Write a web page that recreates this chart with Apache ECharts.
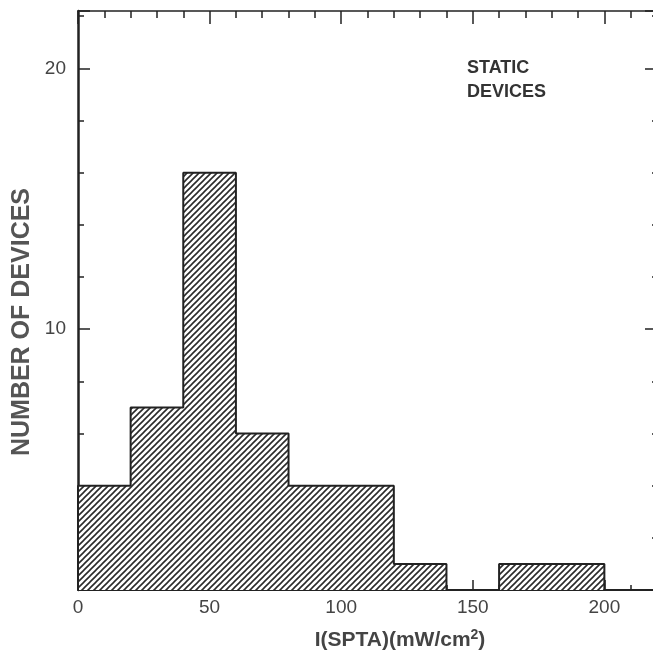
<!DOCTYPE html>
<html>
<head>
<meta charset="utf-8">
<script src="https://cdn.jsdelivr.net/npm/echarts@6/dist/echarts.min.js"></script>
<style>
  html, body { margin: 0; padding: 0; background: #fff; }
  #chart { width: 653px; height: 656px; }
</style>
</head>
<body>
<div id="chart"></div>
<script>
(function(){

    /* 数据 */
    var bin_edges = [0, 20, 40, 60, 80, 100, 120, 140, 160, 180, 200];
    var counts = [4, 7, 16, 6, 4, 4, 1, 0, 1, 1];
    var x_ticks = [0, 50, 100, 150, 200];
    var y_ticks = [10, 20];

    // histogram outline built from the bins
    var outline = [[bin_edges[0], 0]];
    for (var i = 0; i < counts.length; i++) {
        outline.push([bin_edges[i], counts[i]]);
        outline.push([bin_edges[i + 1], counts[i]]);
    }
    outline.push([bin_edges[bin_edges.length - 1], 0]);

    // hatch pattern ////
    var s = 6;
    var hatch = document.createElement('canvas');
    hatch.width = s;
    hatch.height = s;
    var ctx = hatch.getContext('2d');
    ctx.fillStyle = '#fff';
    ctx.fillRect(0, 0, s, s);
    ctx.strokeStyle = '#2a2a2a';
    ctx.lineWidth = 1.6;
    ctx.beginPath();
    ctx.moveTo(0, s); ctx.lineTo(s, 0);
    ctx.moveTo(-1, 1); ctx.lineTo(1, -1);
    ctx.moveTo(s - 1, s + 1); ctx.lineTo(s + 1, s - 1);
    ctx.stroke();

    var font = 'Liberation Sans, Arial, sans-serif';
    var ink = '#222';
    var X_MAX = 220, Y_MAX = 22.2;

    // 刻度轴（长刻度 / 短刻度各一条）
    function xAxisOf(pos, step, tickLen, lineW, label) {
        return {
            type: 'value', min: 0, max: X_MAX, interval: step, position: pos,
            axisLine: { show: lineW > 0, onZero: false, lineStyle: { color: ink, width: lineW } },
            axisTick: { inside: true, length: tickLen, lineStyle: { color: ink, width: 1.5 } },
            splitLine: { show: false },
            axisLabel: label || { show: false }
        };
    }
    function yAxisOf(pos, step, tickLen, lineW, label) {
        return {
            type: 'value', min: 0, max: Y_MAX, interval: step, position: pos,
            axisLine: { show: lineW > 0, onZero: false, lineStyle: { color: ink, width: lineW } },
            axisTick: { show: true, inside: true, length: tickLen, lineStyle: { color: ink, width: 1.5 } },
            splitLine: { show: false },
            axisLabel: label || { show: false }
        };
    }

    var chart = echarts.init(document.getElementById('chart'));
    var option = {
        animation: false,
        grid: { left: 78, right: -4, top: 11, bottom: 66, outerBoundsMode: 'none', containLabel: false },
        xAxis: [
            xAxisOf('bottom', 50, 10, 2, {
                margin: 8,
                fontFamily: font,
                fontSize: 19,
                color: '#444',
                formatter: function (v) { return x_ticks.indexOf(v) > -1 ? String(v) : ''; }
            }),
            xAxisOf('bottom', 10, 5, 0),
            xAxisOf('top', 50, 13, 1.5),
            xAxisOf('top', 10, 7, 0)
        ],
        yAxis: [
            yAxisOf('left', 10, 12, 2.5, {
                margin: 12,
                fontFamily: font,
                fontSize: 19,
                color: '#444',
                formatter: function (v) { return y_ticks.indexOf(v) > -1 ? String(v) : ''; }
            }),
            yAxisOf('left', 2, 6, 0),
            yAxisOf('right', 10, 12, 1.5),
            yAxisOf('right', 2, 5, 0)
        ],
        graphic: [
            {
                type: 'text',
                left: 467,
                top: 56,
                style: {
                    text: 'STATIC\nDEVICES',
                    font: 'bold 18px ' + font,
                    lineHeight: 24,
                    fill: '#333'
                }
            },
            {
                type: 'text',
                x: 22,
                y: 322,
                rotation: Math.PI / 2,
                style: {
                    text: 'NUMBER OF DEVICES',
                    font: 'bold 25px ' + font,
                    fill: '#555',
                    align: 'center',
                    verticalAlign: 'middle'
                }
            },
            {
                type: 'text',
                x: 400,
                y: 640,
                style: {
                    text: 'I(SPTA)(mW/cm{sup|2})',
                    font: 'bold 21px ' + font,
                    fill: '#444',
                    align: 'center',
                    verticalAlign: 'middle',
                    rich: {
                        sup: { font: 'bold 14px ' + font, fill: '#444', verticalAlign: 'top', padding: [0, 0, 9, 0] }
                    }
                }
            }
        ],
        series: [
            {
                type: 'line',
                xAxisIndex: 0,
                yAxisIndex: 0,
                data: outline,
                symbol: 'none',
                clip: false,
                lineStyle: { color: ink, width: 2 },
                areaStyle: { color: { image: hatch, repeat: 'repeat' }, opacity: 1 }
            }
        ]
    };
    chart.setOption(option);

})();
</script>
</body>
</html>
